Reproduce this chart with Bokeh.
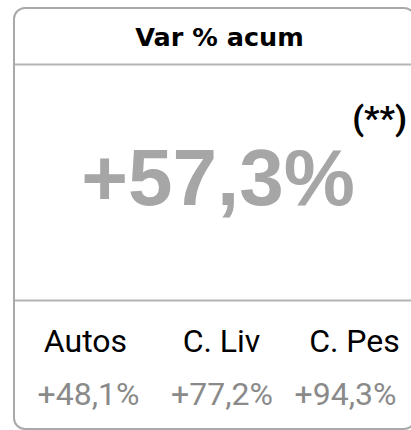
from bokeh.plotting import figure
from bokeh.models import Range1d, ColumnDataSource
from bokeh.core.properties import value
from bokeh.embed import file_html
from bokeh.resources import INLINE

# ---- data ----
title = "Var % acum"
total_value = "+57,3%"
note = "(**)"
categories = ["Autos", "C. Liv", "C. Pes"]
cat_values = ["+48,1%", "+77,2%", "+94,3%"]

# ---- layout (pixel space, y downwards) ----
W, H = 411, 430
label_x = [85, 221, 354]
value_x = [88, 221.5, 345]

p = figure(width=W, height=H, x_range=Range1d(0, W), y_range=Range1d(H, 0),
           output_backend="svg", toolbar_location=None, min_border=0)
p.axis.visible = False
p.grid.visible = False
p.outline_line_color = None
p.background_fill_color = "white"
p.border_fill_color = "white"

# card border
p.quad(left=[13.5], right=[414.5], top=[7.5], bottom=[428.5], fill_color=None,
       line_color="#a9a9a9", line_width=2, border_radius=11)
# separators
p.segment(x0=[14.5, 14.5], y0=[64, 300], x1=[W, W], y1=[64, 300],
          line_color="#b3b3b3", line_width=2)

# title
p.text(x=[219], y=[36.5], text=[title], text_align="center", text_baseline="alphabetic",
       text_font=value("DejaVu Sans"), text_font_style="bold", text_font_size="25.5px",
       text_color="black")
# big value
p.text(x=[217.5], y=[176.5], text=[total_value], text_align="center", text_baseline="alphabetic",
       text_font=value("Liberation Sans"), text_font_style="bold", text_font_size="80px",
       text_color="#a6a6a6")
# note
p.text(x=[379], y=[117], text=[note], text_align="center", text_baseline="alphabetic",
       text_font=value("Roboto"), text_font_style="bold", text_font_size="34px",
       text_color="black")

src_l = ColumnDataSource(dict(x=label_x, y=[340] * 3, t=categories))
p.text(x="x", y="y", text="t", source=src_l, text_align="center", text_baseline="alphabetic",
       text_font=value("Roboto"), text_font_size="32px", text_color="black")
src_v = ColumnDataSource(dict(x=value_x, y=[393] * 3, t=cat_values))
p.text(x="x", y="y", text="t", source=src_v, text_align="center", text_baseline="alphabetic",
       text_font=value("Roboto"), text_font_size="32px", text_color="#8a8a8a")

open("out.html", "w").write(file_html(p, INLINE))
